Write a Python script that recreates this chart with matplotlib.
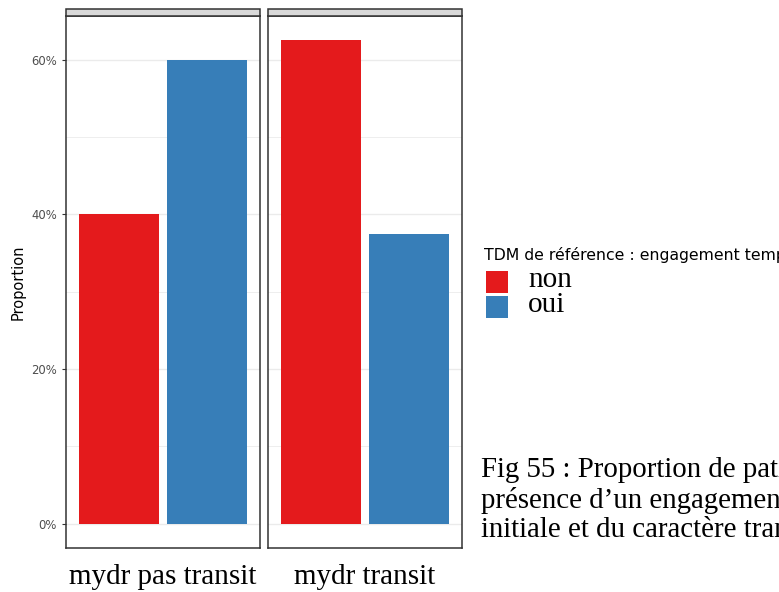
import matplotlib
matplotlib.use("Agg")
import matplotlib.pyplot as plt
import matplotlib.patches as patches
from matplotlib.ticker import FuncFormatter, MultipleLocator

panels = ["mydr pas transit", "mydr transit"]
groups = ["non", "oui"]
proportions = {
    "mydr pas transit": [40.0, 60.0],
    "mydr transit": [62.5, 37.5],
}
colors = ["#E41A1C", "#377EB8"]
legend_title = "TDM de référence : engagement temporaire"
caption = ["Fig 55 : Proportion de patients selon la",
           "présence d\u2019un engagement temporaire",
           "initiale et du caractère transitionnel"]

W, H = 779, 592
fig = plt.figure(figsize=(W / 100, H / 100), dpi=100)

serif = ["Liberation Serif", "DejaVu Serif"]
panel_left = [66, 268]
panel_w = 194
top, bottom = 16, 548

axes = []
for i, name in enumerate(panels):
    ax = fig.add_axes([panel_left[i] / W, (H - bottom) / H,
                       panel_w / W, (bottom - top) / H])
    vals = proportions[name]
    ax.bar([1, 2], vals, width=0.9, color=colors, zorder=2)
    ax.set_xlim(0.4, 2.6)
    ax.set_ylim(-62.5 * 0.05, 62.5 * 1.05)
    ax.yaxis.set_major_locator(MultipleLocator(20))
    ax.yaxis.set_minor_locator(MultipleLocator(10))
    ax.grid(axis="y", which="major", color="#EBEBEB", lw=1.0, zorder=0)
    ax.grid(axis="y", which="minor", color="#EBEBEB", lw=0.6, zorder=0)
    ax.set_xticks([])
    for s in ax.spines.values():
        s.set_color("#333333")
        s.set_linewidth(1.1)
    if i == 0:
        ax.yaxis.set_major_formatter(FuncFormatter(lambda v, p: f"{v:.0f}%"))
        ax.tick_params(axis="y", which="major", labelsize=8.4,
                       labelcolor="#4D4D4D", color="#333333", length=3)
        ax.tick_params(axis="y", which="minor", length=0)
        ax.set_ylabel("Proportion", fontsize=10.5, labelpad=4)
    else:
        ax.tick_params(axis="y", which="both", length=0, labelleft=False)
    # strip
    fig.patches.append(patches.Rectangle(
        (panel_left[i] / W, (H - top) / H), panel_w / W, 7 / H,
        transform=fig.transFigure, facecolor="#D9D9D9",
        edgecolor="#333333", lw=1.1))
    fig.text((panel_left[i] + panel_w / 2) / W, (H - 577) / H, name,
             family=serif, fontsize=21, ha="center", va="center")
    axes.append(ax)

# legend
fig.text(484 / W, (H - 255) / H, legend_title, fontsize=11.3,
         ha="left", va="center")
for j, g in enumerate(groups):
    y0 = 271 + j * 25
    fig.patches.append(patches.Rectangle(
        (486 / W, (H - y0 - 22) / H), 22 / W, 22 / H,
        transform=fig.transFigure, facecolor=colors[j], edgecolor="none"))
    fig.text(528 / W, (H - y0 - 9) / H, g, family=serif, fontsize=21,
             ha="left", va="center")

# caption
for k, line in enumerate(caption):
    fig.text(481 / W, (H - 470 - k * 30) / H, line, family=serif,
             fontsize=20.8, ha="left", va="center")

fig.savefig("out.png", dpi=100)
